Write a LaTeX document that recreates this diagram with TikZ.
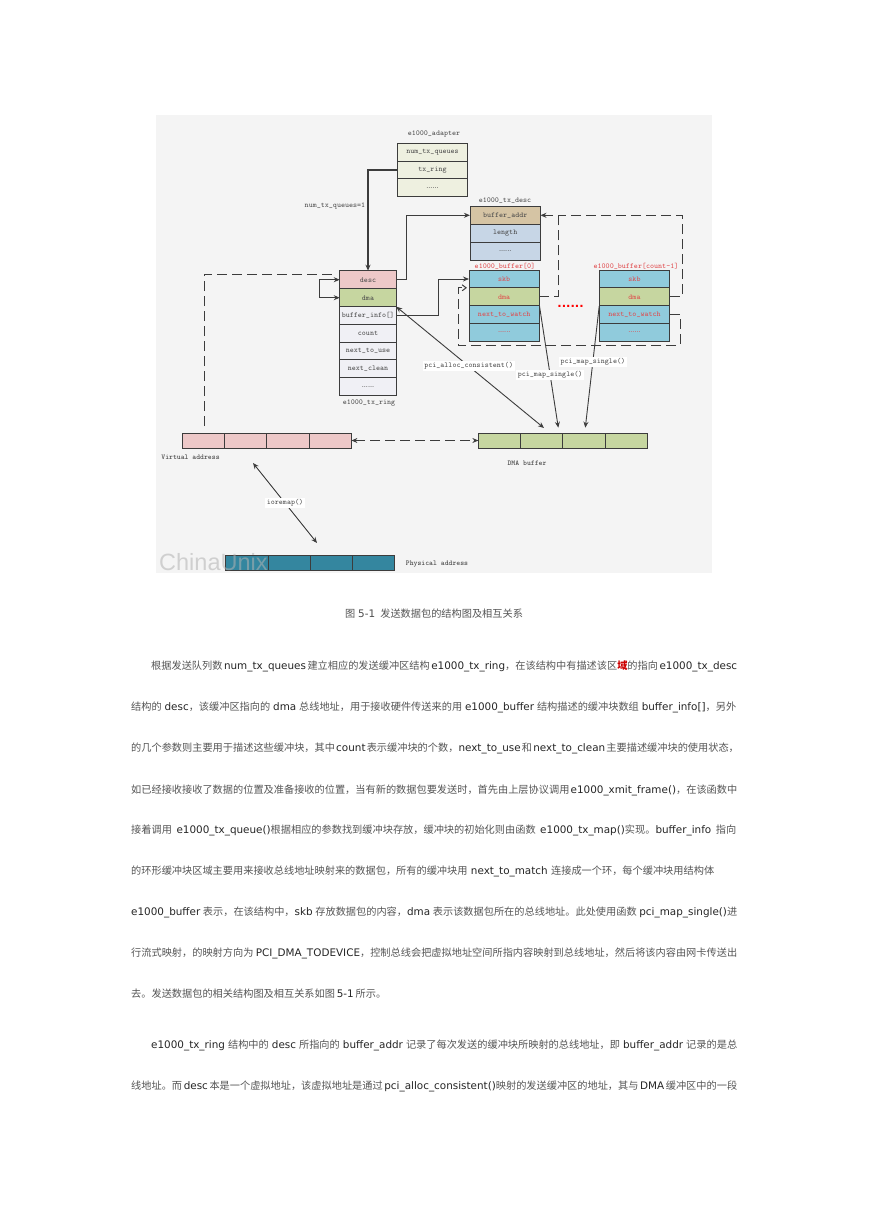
\documentclass[tikz,border=0pt]{standalone}
\usepackage{fontspec}
\usetikzlibrary{arrows.meta}
\setmainfont{DejaVu Sans}
\newfontfamily\cjk[Scale=0.98]{Noto Sans CJK SC}
\newfontfamily\wm{Liberation Sans}
\newcommand{\C}[1]{{\cjk\color{bodycjk}#1}}
\newcommand{\bodyline}[2]{\hbox to #1pt{\spaceskip=2.6pt plus 6pt minus 1.4pt\relax #2}}
\newcommand{\morefield}{{\rmfamily\fontsize{6.5}{7}\selectfont ......}}
\definecolor{bodycjk}{HTML}{555555}
\definecolor{edge}{HTML}{3C3C3C}
\definecolor{labelc}{HTML}{4A4A4A}
\definecolor{redt}{HTML}{E0484A}
\definecolor{cream}{HTML}{EEF0E0}
\definecolor{tanc}{HTML}{D5C4A4}
\definecolor{steel}{HTML}{C7D6E6}
\definecolor{pinkc}{HTML}{EDC8C8}
\definecolor{greenc}{HTML}{C6D6A0}
\definecolor{skyc}{HTML}{90CBDC}
\definecolor{lilac}{HTML}{F0F0F5}
\definecolor{tealc}{HTML}{34869F}
\tikzset{
  field/.style={draw=edge,line width=0.9pt,inner sep=0pt,outer sep=0pt,minimum height=18pt,text=labelc,
     font=\ttfamily\fontsize{7.6}{9}\selectfont},
  adf/.style={field,fill=cream,minimum width=70pt},
  descf/.style={field,fill=steel,minimum width=70.5pt},
  ringf/.style={field,fill=lilac,minimum width=56.5pt},
  buff/.style={field,fill=skyc,minimum width=70.5pt,text=redt},
  cell/.style={draw=edge,line width=0.9pt,inner sep=0pt,outer sep=0pt,minimum height=15pt,minimum width=42.25pt},
  capt/.style={inner sep=0pt,text=labelc,font=\ttfamily\fontsize{7.6}{9}\selectfont},
  capred/.style={capt,text=redt},
  boldcap/.style={capt,font=\ttfamily\bfseries\fontsize{7.4}{9}\selectfont},
  linklabel/.style={capt,fill=white,inner sep=1.5pt},
  conn/.style={draw=edge,line width=0.9pt,-{Stealth[length=6pt,width=5pt]}},
  heavy/.style={conn,line width=1.5pt},
  both/.style={draw=edge,line width=0.9pt,{Stealth[length=6pt,width=5pt]}-{Stealth[length=6pt,width=5pt]}},
  dashln/.style={draw=edge,line width=1pt,dash pattern=on 10pt off 5pt},
  body/.style={inner sep=0pt,anchor=west,text=black!85,font=\fontsize{10.4}{12}\selectfont},
}
\begin{document}
\begin{tikzpicture}[x=1pt,y=-1pt]
\useasboundingbox (0,0) rectangle (869,1228);
\fill[white] (0,0) rectangle (869,1228);
\fill[black!4.5] (156,115) rectangle (712,573);

% e1000_adapter
\node[adf] (ad1) at (432.5,152) {num\_tx\_queues};
\node[adf] (ad2) at (432.5,170) {tx\_ring};
\node[adf] (ad3) at (432.5,187.7) {\morefield};
\node[capt] (adcap) at (434,134) {e1000\_adapter};
% e1000_tx_desc
\node[field,fill=tanc,minimum width=70.5pt] (baddr) at (505.2,215.3) {buffer\_addr};
\node[descf] (dlen) at (505.2,233) {length};
\node[descf] (dmore) at (505.2,251) {\morefield};
\node[capt] (dcap) at (505,200.5) {e1000\_tx\_desc};
% buffer 0
\node[buff] (b0skb) at (504.2,279) {skb};
\node[buff,fill=greenc] (b0dma) at (504.2,296.8) {dma};
\node[buff] (b0next) at (504.2,314.6) {next\_to\_watch};
\node[buff] (b0more) at (504.2,332.4) {\morefield};
\node[capred] (b0cap) at (505,266) {e1000\_buffer[0]};
% buffer count-1
\node[buff] (b1skb) at (634.5,279) {skb};
\node[buff,fill=greenc] (b1dma) at (634.5,296.8) {dma};
\node[buff] (b1next) at (634.5,314.6) {next\_to\_watch};
\node[buff] (b1more) at (634.5,332.4) {\morefield};
\node[capred] (b1cap) at (636,266) {e1000\_buffer[count-1]};
% e1000_tx_ring
\node[ringf,fill=pinkc] (rdesc) at (368,279.7) {desc};
\node[ringf,fill=greenc] (rdma) at (368,297.7) {dma};
\node[ringf] (rinfo) at (368,315.5) {buffer\_info[]};
\node[ringf] (rcount) at (368,333.3) {count};
\node[ringf] (ruse) at (368,351.1) {next\_to\_use};
\node[ringf] (rclean) at (368,368.9) {next\_clean};
\node[ringf] (rmore) at (368,386.7) {\morefield};
\node[capt] (rcap) at (369,403) {e1000\_tx\_ring};
% address bars
\node[cell,fill=pinkc] (v1) at (203.5,440.5) {};
\node[cell,fill=pinkc] (v2) at (245.75,440.5) {};
\node[cell,fill=pinkc] (v3) at (288,440.5) {};
\node[cell,fill=pinkc] (v4) at (330.25,440.5) {};
\node[cell,fill=greenc] (m1) at (499.5,440.5) {};
\node[cell,fill=greenc] (m2) at (541.75,440.5) {};
\node[cell,fill=greenc] (m3) at (584,440.5) {};
\node[cell,fill=greenc] (m4) at (626.25,440.5) {};
\node[cell,fill=tealc] (p1) at (247,562.7) {};
\node[cell,fill=tealc] (p2) at (289.25,562.7) {};
\node[cell,fill=tealc] (p3) at (331.5,562.7) {};
\node[cell,fill=tealc] (p4) at (373.75,562.7) {};
\node[boldcap] (vcap) at (190.5,457) {Virtual address};
\node[boldcap] (mcap) at (527,463) {DMA buffer};
\node[boldcap] (pcap) at (437,564) {Physical address};
\node[capt] (qcap) at (335,206) {num\_tx\_queues=1};

% free ends
\coordinate (allocend) at (544,428);
\coordinate (map0end) at (558.3,427.7);
\coordinate (map1end) at (585.3,427.7);
\coordinate (ioa) at (253,463);
\coordinate (iob) at (317,543);
\coordinate (dashv) at (204,426);
\coordinate (dashd) at (335,274);

% solid connectors
\draw[heavy] (ad2.west) -| (rdesc.north);
\draw[conn] (rdesc.east) -- ++(10,0) |- (baddr.west);
\draw[conn] (rinfo.east) -- (438,315.5) |- (b0skb.west);
\draw[both] (rdesc.west) -- ++(-20,0) |- (rdma.west);
\draw[both] (rdma.south east) -- (allocend) node[linklabel,pos=0.49] (alloclab) {pci\_alloc\_consistent()};
\draw[conn] (b0dma.south east) -- (map0end) node[linklabel,pos=0.566] (map0lab) {pci\_map\_single()};
\draw[conn] (b1dma.south west) -- (map1end) node[linklabel,pos=0.46] (map1lab) {pci\_map\_single()};
\draw[both] (ioa) -- (iob) node[linklabel,pos=0.5] (iolab) {ioremap()};
% dashed connectors
\draw[dashln] (dashv) |- (dashd);
\draw[dashln,{Stealth[length=6pt,width=5pt]}-{Stealth[length=6pt,width=5pt]}] (v4.east) -- (m1.west);
\draw[dashln,-{Stealth[length=6pt,width=5pt]}] (b0dma.east) -- (558,296.8) |- (baddr.east);
\draw[dashln] (b1dma.east) -- (682,296.8) |- (558,215.3);
\draw[dashln,shorten >=2pt,-{Straight Barb[length=4pt,width=6pt]}] (b1next.east) -- (680,314.6) |- (458,345.5) |- (b0dma.north west);

\node[inner sep=0pt,text=red,font=\bfseries\fontsize{11.5}{12}\selectfont] (dots) at (570.5,306) {......};

% watermark
\node[inner sep=0pt,anchor=west,text=black!30,opacity=0.55,font=\wm\fontsize{23.5}{26}\selectfont] (mark) at (159,562) {ChinaUnix};

% body text
\node[inner sep=0pt,text=black!70,font=\fontsize{10.4}{12}\selectfont] (figcap) at (434,614) {\bodyline{178}{\C{图} 5-1\hspace{5pt plus 3pt}\C{发送数据包的结构图及相互关系}}};
\node[body] (l1) at (151,666.5) {\bodyline{586}{\C{根据发送队列数} num\_tx\_queues \C{建立相应的发送缓冲区结构} e1000\_tx\_ring\C{，在该结构中有描述该区}{\cjk\bfseries\color{red!80!black}域}\C{的指向} e1000\_tx\_desc}};
\node[body] (l2) at (131,707.5) {\bodyline{605}{\C{结构的} desc\C{，该缓冲区指向的} dma \C{总线地址，用于接收硬件传送来的用} e1000\_buffer \C{结构描述的缓冲块数组} buffer\_info[]\C{，另外}}};
\node[body] (l3) at (131,748.5) {\bodyline{606}{\C{的几个参数则主要用于描述这些缓冲块，其中} count \C{表示缓冲块的个数，}next\_to\_use \C{和} next\_to\_clean \C{主要描述缓冲块的使用状态，}}};
\node[body] (l4) at (131,790) {\bodyline{606}{\C{如已经接收接收了数据的位置及准备接收的位置，当有新的数据包要发送时，首先由上层协议调用} e1000\_xmit\_frame()\C{，在该函数中}}};
\node[body] (l5) at (131,830.5) {\bodyline{605}{\C{接着调用} e1000\_tx\_queue()\C{根据相应的参数找到缓冲块存放，缓冲块的初始化则由函数} e1000\_tx\_map()\C{实现。}buffer\_info \C{指向}}};
\node[body] (l6) at (131,871.5) {\bodyline{583}{\C{的环形缓冲块区域主要用来接收总线地址映射来的数据包，所有的缓冲块用} next\_to\_match \C{连接成一个环，每个缓冲块用结构体}}};
\node[body] (l7) at (131,912.5) {\bodyline{606}{e1000\_buffer \C{表示，在该结构中，}skb \C{存放数据包的内容，}dma \C{表示该数据包所在的总线地址。此处使用函数} pci\_map\_single()\C{进}}};
\node[body] (l8) at (131,953) {\bodyline{606}{\C{行流式映射，的映射方向为} PCI\_DMA\_TODEVICE\C{，控制总线会把虚拟地址空间所指内容映射到总线地址，然后将该内容由网卡传送出}}};
\node[body] (l9) at (131,994) {\bodyline{255}{\C{去。发送数据包的相关结构图及相互关系如图} 5-1 \C{所示。}}};
\node[body] (l10) at (151,1045) {\bodyline{586}{e1000\_tx\_ring \C{结构中的} desc \C{所指向的} buffer\_addr \C{记录了每次发送的缓冲块所映射的总线地址，即} buffer\_addr \C{记录的是总}}};
\node[body] (l11) at (131,1086) {\bodyline{606}{\C{线地址。而} desc \C{本是一个虚拟地址，该虚拟地址是通过} pci\_alloc\_consistent()\C{映射的发送缓冲区的地址，其与} DMA \C{缓冲区中的一段}}};
\end{tikzpicture}
\end{document}
